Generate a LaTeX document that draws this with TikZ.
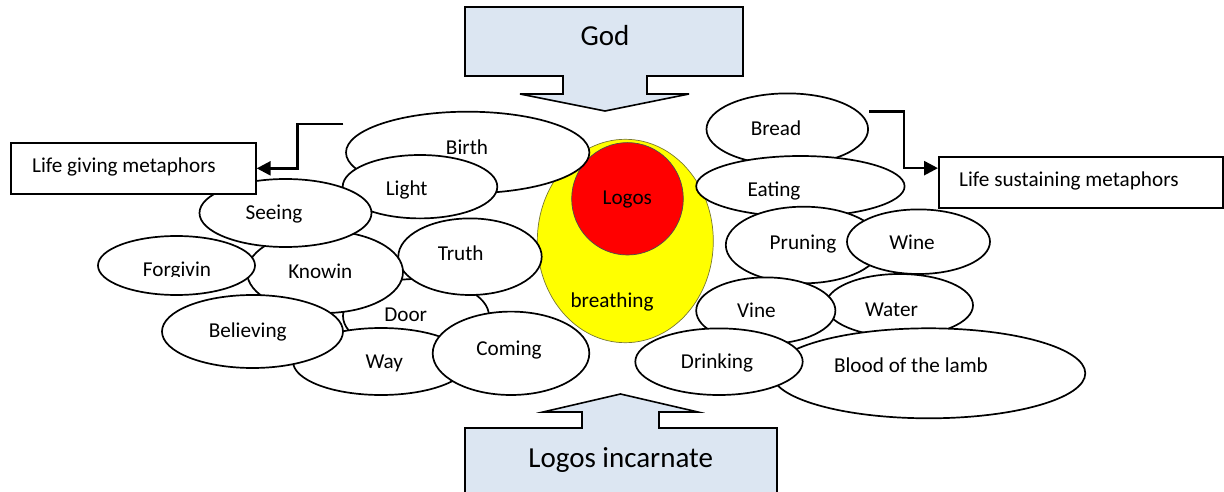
\documentclass[tikz,border=0pt]{standalone}
\usepackage{fontspec}
\setmainfont{Carlito}
\usetikzlibrary{shapes.geometric,arrows.meta}
\definecolor{calloutblue}{RGB}{220,230,242}
\definecolor{egg}{RGB}{255,255,0}
\definecolor{core}{RGB}{255,0,0}
\begin{document}
\begin{tikzpicture}[x=1pt,y=-1pt,
  bub/.style={ellipse,draw=black,line width=1.7pt,fill=white,inner sep=0pt},
  lbl/.style={font=\fontsize{21.2}{25}\selectfont,text height=13.3pt,text depth=0pt,inner sep=0pt},
  big/.style={font=\fontsize{29}{34}\selectfont,text height=18.3pt,text depth=0pt,inner sep=0pt},
  box/.style={draw=black,line width=1.7pt,fill=white,inner sep=0pt,anchor=north west},
  callout/.style={draw=black,line width=1.6pt,fill=calloutblue,line join=miter},
  conn/.style={draw=black,line width=2.6pt,-{Triangle[length=14pt,width=14pt]}}]
\useasboundingbox (0,0) rectangle (1224,492);

% top callout arrow
\draw[callout] (465,7) -- (743,7) -- (743,76) -- (647,76) -- (647,94) -- (689,94) -- (605,111)
  -- (520,94) -- (563,94) -- (563,76) -- (465,76) -- cycle;
\node[big] (god) at (605,36.7) {God};

% bottom callout arrow
\draw[callout] (465,500) -- (465,428) -- (582,428) -- (582,412) -- (543,412) -- (620.5,394)
  -- (698,412) -- (659,412) -- (659,428) -- (777,428) -- (777,500);
\node[big] (incarnate) at (620.7,458.7) {Logos incarnate};

% central egg
\node[ellipse,draw={rgb,255:red,120;green,120;blue,50},line width=0.7pt,fill=egg,inner sep=0pt,
  minimum width=176pt,minimum height=203.4pt] (yolk) at (625.3,241) {};
\node[ellipse,draw=black!70,line width=0.7pt,fill=core,inner sep=0pt,
  minimum width=111.6pt,minimum height=112.4pt] (logoscirc) at (627.5,198.8) {};

% left (life giving) bubbles
\node[bub,minimum width=243.4pt,minimum height=81.6pt] (birth) at (467.7,152.5) {};
\node[bub,minimum width=154.6pt,minimum height=63.4pt] (light) at (420,186.7) {};
\node[bub,minimum width=146pt,minimum height=74pt] (door) at (416,316) {};
\node[bub,minimum width=143.4pt,minimum height=76.6pt] (truth) at (470,256.7) {};
\node[bub,minimum width=156pt,minimum height=82pt] (knowin) at (325,272) {};
\node[bub,minimum width=157pt,minimum height=59pt] (forgivin) at (176.5,265.5) {};
\node[bub,minimum width=172pt,minimum height=68pt] (seeing) at (285.5,213) {};
\node[bub,minimum width=176pt,minimum height=67pt] (way) at (381,361.5) {};
\node[bub,minimum width=181pt,minimum height=73pt] (believing) at (252.5,331.5) {};
\node[bub,minimum width=156.6pt,minimum height=83.4pt] (coming) at (511,353.3) {};

% right (life sustaining) bubbles
\node[bub,minimum width=161.6pt,minimum height=71.6pt] (bread) at (787.3,129.2) {};
\node[bub,minimum width=208.4pt,minimum height=60.6pt] (eating) at (800.4,186.3) {};
\node[bub,minimum width=155.8pt,minimum height=76.6pt] (pruning) at (803.7,245) {};
\node[bub,minimum width=143pt,minimum height=64.6pt] (wine) at (918.5,241.7) {};
\node[bub,minimum width=147.2pt,minimum height=62.6pt] (water) at (899.4,305.3) {};
\node[bub,minimum width=139.2pt,minimum height=66.6pt] (vine) at (765.8,310.7) {};
\node[bub,minimum width=313.4pt,minimum height=90pt] (blood) at (928.6,373.3) {};
\node[bub,minimum width=167.4pt,minimum height=66.6pt] (drinking) at (719,361.7) {};

% labels
\node[lbl] (tlogos) at (627.3,198.3) {Logos};
\node[lbl] (tbreathing) at (612,300.7) {breathing};
\node[lbl] (tbirth) at (467,148.3) {Birth};
\node[lbl] (tlight) at (406.7,188.7) {Light};
\node[lbl] (ttruth) at (460.7,254) {Truth};
\node[lbl] (tdoor) at (405.7,315.3) {Door};
\node[lbl] (tcoming) at (509,349) {Coming};
\node[lbl] (tway) at (384.3,362.3) {Way};
\node[lbl] (tseeing) at (274,213) {Seeing};
\begin{scope}
  \clip (120,250) rectangle (240,276.5);
  \node[lbl] (tforgivin) at (177,270.3) {Forgivin};
\end{scope}
\node[lbl] (tknowin) at (320.3,271.7) {Knowin};
\node[lbl] (tbelieving) at (247.7,331) {Believing};
\node[lbl] (tbread) at (776,128.7) {Bread};
\node[lbl] (teating) at (774,190.3) {Eating};
\node[lbl] (tpruning) at (803,243.3) {Pruning};
\node[lbl] (twine) at (912,243.3) {Wine};
\node[lbl] (tvine) at (756.5,311.3) {Vine};
\node[lbl] (twater) at (891.5,309.7) {Water};
\node[lbl] (tdrinking) at (717,362.3) {Drinking};
\node[lbl] (tblood) at (911,366.3) {Blood of the lamb};

% side boxes
\node[box,minimum width=245pt,minimum height=51pt] (lbox) at (10,142) {};
\node[lbl,anchor=west] (ltext) at (32,166.3) {Life giving metaphors};
\node[box,minimum width=284pt,minimum height=51pt] (rbox) at (938,156) {};
\node[lbl,anchor=west] (rtext) at (959,180) {Life sustaining metaphors};

% connectors
\coordinate (lstart) at (343.3,124);
\coordinate (rstart) at (869,111.7);
\draw[conn] (lstart) -- (297.7,124) |- (lbox.east);
\draw[conn] (rstart) -- (903.8,111.7) |- ([yshift=14.2pt]rbox.west);
\end{tikzpicture}
\end{document}
